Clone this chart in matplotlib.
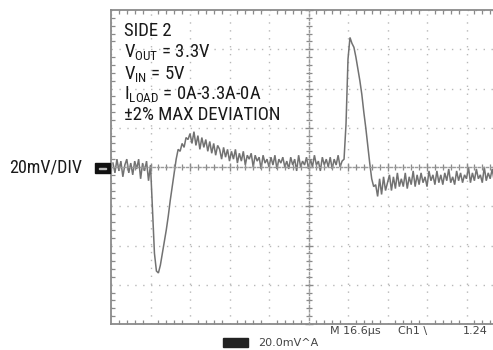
import matplotlib
matplotlib.use("Agg")
import matplotlib.pyplot as plt
import numpy as np
from matplotlib.patches import Rectangle
from matplotlib.ticker import MultipleLocator

# scope settings
US_PER_DIV = 16.6
MV_PER_DIV = 20.0
SAMPLE_US = 0.83      # one sample every 1/20 division
T_START_US = 0.83

# output voltage deviation, mV, one value per sample
V_MV = [
    # before the load step
    2, -3, 4, -2, 3, -5, 1, 4, -3, 2, -4, 3, -1, 4, -6, 2, -2, 3, -7, 1,
    # load step: undershoot and recovery
    -22, -44, -53, -54, -50, -44, -38, -32, -25, -17,
    -10, -3, 4, 9, 8, 12, 10, 15, 14, 17,
    # settling at 3.3A
    12, 18, 11, 16, 9, 15, 10, 14, 8, 13,
    7, 12, 6, 11, 9, 4, 10, 5, 9, 3,
    8, 4, 9, 2, 7, 3, 8, 1, 6, 4,
    7, 0, 6, 3, 5, -1, 6, 2, 4, 0,
    5, 1, 6, -1, 4, 2, 5, 0, 3, -1,
    5, 1, 4, -2, 6, 0, 3, 1, 5, -1,
    4, 0, 6, 1, 3, -2, 5, 1, 4, 0,
    5, -1, 4, 1, 6, 0, 3,
    # load release: overshoot
    4, 22, 55, 66, 63, 61, 56, 50, 44, 37, 28, 20, 11, 2, -6, -10, -9,
    # settling at 0A
    -15, -6, -14, -5, -12, -8, -4, -12, -5, -11,
    -3, -10, -6, -10, -3, -11, -5, -9, -2, -10,
    -4, -9, -3, -8, -5, -10, -2, -7, -4, -9,
    -2, -8, -4, -9, -3, -7, -1, -8, -5, -9,
    -2, -7, -3, -8, -4, -6, 0, -8, -3, -7,
    -1, -6, -4, -8, 0, -7, -3, -6, -1, -7,
]

NOTE_LINES = [
    "SIDE 2",
    r"V$_{\mathrm{OUT}}$ = 3.3V",
    r"V$_{\mathrm{IN}}$ = 5V",
    r"I$_{\mathrm{LOAD}}$ = 0A-3.3A-0A",
    "±2% MAX DEVIATION",
]

FONT = ["Roboto Condensed", "Archivo Narrow", "DejaVu Sans"]
plt.rcParams["font.family"] = FONT
plt.rcParams["mathtext.fontset"] = "custom"
plt.rcParams["mathtext.rm"] = "Roboto Condensed"
plt.rcParams["mathtext.it"] = "Roboto Condensed"

W, H = 493, 350
fig = plt.figure(figsize=(W / 100, H / 100), dpi=100)


def fx(px):
    return px / W


def fy(py):
    return 1 - py / H


# graticule: 10 x 8 divisions, right edge runs past the picture
pos = [fx(111), fy(324), fx(395), 314 / H]
ax = fig.add_axes(pos)
ax.set_xlim(0, 10 * US_PER_DIV)
ax.set_ylim(-4 * MV_PER_DIV, 4 * MV_PER_DIV)
ax.xaxis.set_major_locator(MultipleLocator(US_PER_DIV))
ax.yaxis.set_major_locator(MultipleLocator(MV_PER_DIV))
ax.xaxis.set_minor_locator(MultipleLocator(US_PER_DIV / 5))
ax.yaxis.set_minor_locator(MultipleLocator(MV_PER_DIV / 5))
ax.grid(True, which="major", color="#b8b8b8", lw=1.0, ls=(0, (1, 4.7)))
ax.tick_params(which="both", direction="in", top=True, right=True,
               labelbottom=False, labelleft=False, color="#8a8a8a")
ax.tick_params(which="major", length=0)
ax.tick_params(which="minor", length=3, width=0.9)
for s in ax.spines.values():
    s.set_color("#8a8a8a")
    s.set_linewidth(1.3)

# centre cross with its own small ticks
cx = fig.add_axes(pos, frameon=True, facecolor="none")
cx.set_xlim(ax.get_xlim())
cx.set_ylim(ax.get_ylim())
cx.spines["top"].set_visible(False)
cx.spines["right"].set_visible(False)
cx.spines["left"].set_position(("data", 5 * US_PER_DIV))
cx.spines["bottom"].set_position(("data", 0))
for k in ("left", "bottom"):
    cx.spines[k].set_color("#9a9a9a")
    cx.spines[k].set_linewidth(1.0)
    cx.spines[k].set_linestyle((0, (1.5, 1.5)))
cx.xaxis.set_major_locator(MultipleLocator(US_PER_DIV))
cx.yaxis.set_major_locator(MultipleLocator(MV_PER_DIV))
cx.xaxis.set_minor_locator(MultipleLocator(US_PER_DIV / 5))
cx.yaxis.set_minor_locator(MultipleLocator(MV_PER_DIV / 5))
cx.tick_params(which="both", direction="inout", labelbottom=False,
               labelleft=False, color="#8a8a8a")
cx.tick_params(which="major", length=6, width=1.0)
cx.tick_params(which="minor", length=4, width=0.9)

t_us = T_START_US + SAMPLE_US * np.arange(len(V_MV))
ax.plot(t_us, V_MV, color="#727272", lw=1.1, solid_joinstyle="miter", zorder=5)

# annotation block
baselines = [36, 57.5, 78.5, 99.5, 120]
for txt, by in zip(NOTE_LINES, baselines):
    fig.text(fx(124), fy(by), txt, fontsize=13.5, color="#1a1a1a",
             ha="left", va="baseline")

fig.text(fx(82), fy(167.5), "20mV/DIV", fontsize=13, color="#1a1a1a",
         ha="right", va="center")

# channel marker and scope readout
fig.add_artist(Rectangle((fx(95), fy(173)), fx(15), 10 / H,
                         transform=fig.transFigure, color="#111111"))
fig.add_artist(Rectangle((fx(99), fy(169.5)), fx(7), 2 / H,
                         transform=fig.transFigure, color="#bbbbbb"))
fig.add_artist(Rectangle((fx(223), fy(347)), fx(25), 9 / H,
                         transform=fig.transFigure, color="#222222"))

scope_kw = dict(fontsize=8, color="#444444", va="center", family=["DejaVu Sans"])
fig.text(fx(330), fy(331), "M 16.6µs", ha="left", **scope_kw)
fig.text(fx(398), fy(331), "Ch1 \\", ha="left", **scope_kw)
fig.text(fx(463), fy(331), "1.24", ha="left", **scope_kw)
fig.text(fx(258), fy(343), "20.0mV^A", ha="left", **scope_kw)

fig.savefig("out.png", dpi=100)
